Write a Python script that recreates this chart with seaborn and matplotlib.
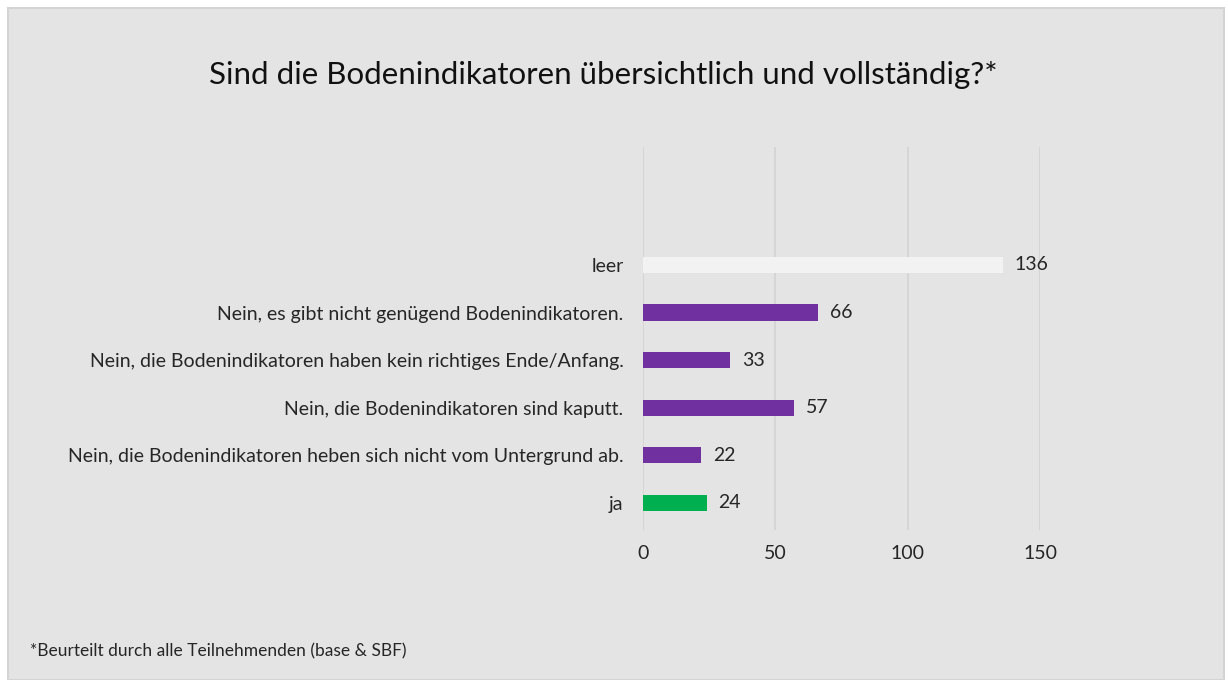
import matplotlib
matplotlib.use("Agg")
import matplotlib.pyplot as plt
from matplotlib.patches import Rectangle
import seaborn as sns
import pandas as pd

categories = [
    "leer",
    "Nein, es gibt nicht genügend Bodenindikatoren.",
    "Nein, die Bodenindikatoren haben kein richtiges Ende/Anfang.",
    "Nein, die Bodenindikatoren sind kaputt.",
    "Nein, die Bodenindikatoren heben sich nicht vom Untergrund ab.",
    "ja",
]
values = [136, 66, 33, 57, 22, 24]
bar_colors = ["#F2F2F2", "#7030A0", "#7030A0", "#7030A0", "#7030A0", "#00B050"]
x_ticks = [0, 50, 100, 150]
title = "Sind die Bodenindikatoren übersichtlich und vollständig?*"
footnote = "*Beurteilt durch alle Teilnehmenden (base & SBF)"

df = pd.DataFrame({"cat": categories, "val": values})

sns.set_style("white")
plt.rcParams["font.family"] = ["Lato", "DejaVu Sans"]

BG = "#E4E4E4"
fig = plt.figure(figsize=(12.28, 6.8), dpi=100)
fig.patch.set_facecolor("white")
fig.patches.append(Rectangle((8 / 1228, 0), 1216 / 1228, 1 - 8 / 680,
                             transform=fig.transFigure, facecolor=BG,
                             edgecolor="#D4D4D4", linewidth=1.5, zorder=-10))

ax = fig.add_axes([643 / 1228, 1 - 530 / 680, 397 / 1228, 383 / 680])
ax.set_facecolor("none")

sns.barplot(data=df, y="cat", x="val", hue="cat", palette=bar_colors,
            orient="h", width=0.34, legend=False, ax=ax, saturation=1,
            linewidth=0)

ax.set_xlim(0, 150)
ax.set_ylim(5.57, -2.48)
ax.set_xticks(x_ticks)
ax.set_xticklabels([str(t) for t in x_ticks])
ax.xaxis.grid(True, color="#D2D2D2", linewidth=1.2)
ax.set_axisbelow(True)
for s in ax.spines.values():
    s.set_visible(False)
ax.tick_params(axis="both", length=0, labelsize=14, colors="#262626")
ax.tick_params(axis="x", pad=11)
ax.tick_params(axis="y", pad=14)
ax.set_xlabel("")
ax.set_ylabel("")

for i, v in enumerate(values):
    ax.text(v + 4.5, i, str(v), va="center", ha="left", fontsize=14, color="#262626")

fig.text(603 / 1228, 1 - 75 / 680, title, ha="center", va="center",
         fontsize=22.5, color="#111111")
fig.text(30 / 1228, 1 - 651 / 680, footnote, ha="left", va="center",
         fontsize=12.5, color="#262626")

fig.savefig("out.png", dpi=100, facecolor=fig.get_facecolor())
